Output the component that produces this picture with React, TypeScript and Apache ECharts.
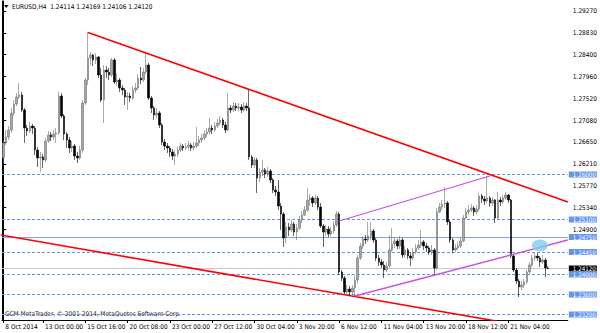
import React, { useEffect, useRef } from "react";
import * as echarts from "echarts";

const symbolName = "EURUSD,H4";
const lastQuote = [1.24114, 1.24169, 1.24106, 1.2412]; // O H L C of the last bar
const copyright = "GCM MetaTrader, \u00A9 2001-2014, MetaQuotes Software Corp.";

// H4 bars, 8 Oct 2014 12:00 onwards (open of each bar = previous close)
const firstOpen = 1.2633;
const closes = [
  1.2663, 1.2675, 1.2689, 1.2723, 1.2741, 1.2755, 1.2759, 1.2729, 1.2693, 1.2687,
  1.2697, 1.2693, 1.2649, 1.2633, 1.2635, 1.2629, 1.2667, 1.2679, 1.2675, 1.2681,
  1.2683, 1.2757, 1.2717, 1.2681, 1.2669, 1.2653, 1.2657, 1.2637, 1.2633, 1.2649,
  1.2743, 1.2789, 1.2833, 1.2839, 1.2829, 1.2835, 1.2799, 1.2749, 1.2809, 1.2805,
  1.2799, 1.2829, 1.2785, 1.2789, 1.2773, 1.2769, 1.2755, 1.2757, 1.2753, 1.2769,
  1.2773, 1.2793, 1.2789, 1.2805, 1.2819, 1.2753, 1.2733, 1.2719, 1.2723, 1.2699,
  1.2665, 1.2657, 1.2653, 1.2645, 1.2637, 1.2641, 1.2649, 1.2657, 1.2653, 1.2655,
  1.2659, 1.2653, 1.2657, 1.2663, 1.2669, 1.2673, 1.2681, 1.2685, 1.2693, 1.2689,
  1.2697, 1.2703, 1.2709, 1.2699, 1.2689, 1.2733, 1.2729, 1.2737, 1.2733, 1.2735,
  1.2729, 1.2737, 1.2733, 1.2635, 1.2619, 1.2629, 1.2593, 1.2605, 1.2609, 1.2601,
  1.2607, 1.2589, 1.2569, 1.2565, 1.2537, 1.2521, 1.2473, 1.2495, 1.2489, 1.2501,
  1.2485, 1.2493, 1.2509, 1.2519, 1.2529, 1.2549, 1.2553, 1.2543, 1.2553, 1.2535,
  1.2497, 1.2485, 1.2491, 1.2481, 1.2487, 1.2499, 1.2521, 1.2405, 1.2393, 1.2365,
  1.2371, 1.2365, 1.2373, 1.2389, 1.2433, 1.2457, 1.2471, 1.2469, 1.2477, 1.2487,
  1.2469, 1.2433, 1.2425, 1.2419, 1.2409, 1.2417, 1.2449, 1.2461, 1.2467, 1.2457,
  1.2469, 1.2439, 1.2449, 1.2437, 1.2433, 1.2445, 1.2453, 1.2459, 1.2465, 1.2457,
  1.2453, 1.2445, 1.2449, 1.2413, 1.2525, 1.2535, 1.2541, 1.2543, 1.2505, 1.2469,
  1.2449, 1.2453, 1.2457, 1.2467, 1.2513, 1.2525, 1.2529, 1.2533, 1.2525, 1.2531,
  1.2557, 1.2551, 1.2547, 1.2553, 1.2543, 1.2549, 1.2513, 1.2549, 1.2545, 1.2553,
  1.2559, 1.2549, 1.2437, 1.2409, 1.2387, 1.2375, 1.2379, 1.2385, 1.2405, 1.2419,
  1.2433, 1.2437, 1.2433, 1.2425, 1.2429, 1.2413, 1.2412,
];
const highs = [
  1.2669, 1.2689, 1.2697, 1.2733, 1.2749, 1.2763, 1.2783, 1.2765, 1.2733, 1.2699,
  1.2705, 1.2701, 1.2697, 1.2655, 1.2645, 1.2641, 1.2673, 1.2687, 1.2685, 1.2689,
  1.2693, 1.2765, 1.2763, 1.2721, 1.2685, 1.2675, 1.2667, 1.2661, 1.2645, 1.2657,
  1.2749, 1.2793, 1.2885, 1.2845, 1.2841, 1.2843, 1.2837, 1.2813, 1.2819, 1.2817,
  1.2813, 1.2833, 1.2833, 1.2803, 1.2793, 1.2779, 1.2773, 1.2765, 1.2763, 1.2777,
  1.2783, 1.2801, 1.2815, 1.2813, 1.2843, 1.2823, 1.2757, 1.2737, 1.2733, 1.2727,
  1.2703, 1.2671, 1.2663, 1.2657, 1.2651, 1.2649, 1.2655, 1.2663, 1.2661, 1.2663,
  1.2667, 1.2663, 1.2665, 1.2695, 1.2677, 1.2681, 1.2689, 1.2693, 1.2713, 1.2699,
  1.2705, 1.2711, 1.2717, 1.2713, 1.2705, 1.2763, 1.2739, 1.2745, 1.2743, 1.2743,
  1.2741, 1.2745, 1.2743, 1.2769, 1.2639, 1.2635, 1.2633, 1.2613, 1.2629, 1.2613,
  1.2615, 1.2611, 1.2593, 1.2577, 1.2589, 1.2543, 1.2525, 1.2505, 1.2503, 1.2509,
  1.2505, 1.2501, 1.2517, 1.2527, 1.2537, 1.2573, 1.2561, 1.2557, 1.2559, 1.2557,
  1.2543, 1.2501, 1.2499, 1.2497, 1.2495, 1.2507, 1.2527, 1.2525, 1.2409, 1.2397,
  1.2379, 1.2377, 1.2379, 1.2397, 1.2439, 1.2463, 1.2477, 1.2479, 1.2505, 1.2505,
  1.2491, 1.2473, 1.2439, 1.2431, 1.2427, 1.2425, 1.2479, 1.2493, 1.2475, 1.2471,
  1.2477, 1.2473, 1.2457, 1.2453, 1.2445, 1.2453, 1.2461, 1.2469, 1.2489, 1.2469,
  1.2463, 1.2457, 1.2459, 1.2453, 1.2533, 1.2543, 1.2549, 1.2575, 1.2547, 1.2509,
  1.2473, 1.2461, 1.2465, 1.2475, 1.2519, 1.2533, 1.2539, 1.2541, 1.2537, 1.2539,
  1.2563, 1.2561, 1.2557, 1.2597, 1.2557, 1.2555, 1.2551, 1.2565, 1.2555, 1.2559,
  1.2565, 1.2561, 1.2551, 1.2441, 1.2413, 1.2391, 1.2387, 1.2391, 1.2409, 1.2425,
  1.2439, 1.2443, 1.2443, 1.2437, 1.2439, 1.2433, 1.24169,
];
const lows = [
  1.2623, 1.2659, 1.2669, 1.2683, 1.2717, 1.2737, 1.2751, 1.2725, 1.2663, 1.2677,
  1.2683, 1.2681, 1.2639, 1.2615, 1.2605, 1.2613, 1.2625, 1.2663, 1.2667, 1.2669,
  1.2663, 1.2679, 1.2713, 1.2669, 1.2653, 1.2643, 1.2645, 1.2629, 1.2623, 1.2629,
  1.2643, 1.2739, 1.2779, 1.2819, 1.2817, 1.2821, 1.2793, 1.2745, 1.2703, 1.2793,
  1.2789, 1.2795, 1.2781, 1.2777, 1.2765, 1.2759, 1.2739, 1.2729, 1.2745, 1.2749,
  1.2763, 1.2769, 1.2781, 1.2785, 1.2801, 1.2749, 1.2723, 1.2709, 1.2713, 1.2693,
  1.2659, 1.2649, 1.2643, 1.2635, 1.2629, 1.2619, 1.2635, 1.2645, 1.2647, 1.2649,
  1.2649, 1.2647, 1.2649, 1.2653, 1.2657, 1.2663, 1.2669, 1.2675, 1.2681, 1.2681,
  1.2685, 1.2693, 1.2699, 1.2693, 1.2683, 1.2687, 1.2723, 1.2725, 1.2727, 1.2727,
  1.2723, 1.2725, 1.2727, 1.2629, 1.2613, 1.2613, 1.2563, 1.2585, 1.2597, 1.2593,
  1.2595, 1.2583, 1.2563, 1.2557, 1.2529, 1.2489, 1.2455, 1.2463, 1.2477, 1.2485,
  1.2477, 1.2469, 1.2489, 1.2503, 1.2517, 1.2525, 1.2537, 1.2535, 1.2539, 1.2529,
  1.2493, 1.2455, 1.2477, 1.2475, 1.2477, 1.2481, 1.2495, 1.2399, 1.2387, 1.2359,
  1.2361, 1.2359, 1.2359, 1.2357, 1.2381, 1.2429, 1.2451, 1.2461, 1.2465, 1.2469,
  1.2463, 1.2427, 1.2417, 1.2413, 1.2393, 1.2405, 1.2413, 1.2445, 1.2453, 1.2451,
  1.2451, 1.2433, 1.2433, 1.2431, 1.2417, 1.2429, 1.2441, 1.2449, 1.2453, 1.2449,
  1.2445, 1.2439, 1.2439, 1.2399, 1.2409, 1.2523, 1.2529, 1.2533, 1.2499, 1.2463,
  1.2443, 1.2445, 1.2449, 1.2453, 1.2465, 1.2511, 1.2519, 1.2525, 1.2517, 1.2521,
  1.2527, 1.2543, 1.2539, 1.2543, 1.2535, 1.2537, 1.2503, 1.2511, 1.2537, 1.2541,
  1.2549, 1.2543, 1.2433, 1.2405, 1.2381, 1.2355, 1.2369, 1.2373, 1.2381, 1.2401,
  1.2415, 1.2427, 1.2427, 1.2415, 1.2421, 1.2395, 1.24106,
];
const shiftBars = 7; // empty space right of the last bar

const xTickIndex = [0, 15, 31, 47, 63, 79, 95, 111, 127, 143, 159, 175, 191];
const xTickLabels = [
  "8 Oct 2014", "13 Oct 00:00", "15 Oct 16:00", "20 Oct 08:00", "23 Oct 00:00",
  "27 Oct 12:00", "30 Oct 04:00", "3 Nov 20:00", "6 Nov 12:00", "11 Nov 04:00",
  "13 Nov 20:00", "18 Nov 12:00", "21 Nov 04:00",
];
const yTickValues = [
  1.2927, 1.2883, 1.284, 1.2796, 1.2752, 1.2708, 1.2665, 1.2621, 1.2577, 1.2534, 1.249,
];
const yMin = 1.2309;
const yMax = 1.2947;

const dottedLevels = [1.26, 1.251, 1.2445, 1.24, 1.236, 1.232];
const solidLevels = [1.2475];
const bidLevel = 1.2412;

// trend lines: [bar index, price]
const redUpper = [[32, 1.2884], [213.5, 1.2545]];
const redLower = [[-1, 1.2479], [213.5, 1.2282]];
const purpleUpper = [[127, 1.2507], [184, 1.2597]];
const purpleLower = [[133, 1.2357], [213.5, 1.2469]];
const touchMark = [[202.9, 1.2458]];

const FONT = "'Liberation Sans Narrow', 'DejaVu Sans Condensed', 'Liberation Sans', sans-serif";
const FS = 6.5;
const LEVEL_BLUE = "#6495ED";

export default function App() {
  const ref = useRef<HTMLDivElement>(null);
  useEffect(() => {
    if (!ref.current) return;
    const chart = echarts.init(ref.current, undefined, { renderer: "svg" });
    const total = closes.length + shiftBars;
    const cats = Array.from({ length: total }, (_, i) => String(i));
    const candles = closes.map((c, i) => [i === 0 ? firstOpen : closes[i - 1], c, lows[i], highs[i]]);
    const tickSet = new Set(xTickIndex);
    const lblMap: Record<number, string> = {};
    xTickIndex.forEach((ix, k) => (lblMap[ix] = xTickLabels[k]));

    const levelLabel = (bg: string) => ({
      show: true,
      position: "end" as const,
      distance: 1,
      formatter: (p: any) => Number(p.value).toFixed(5),
      color: "#fff",
      backgroundColor: bg,
      fontFamily: FONT,
      fontSize: 6.2,
      lineHeight: 6,
      padding: [0, 1, 0, 4],
    });

    const markData: any[] = [
      { yAxis: bidLevel, lineStyle: { color: "#c8c8c8", type: "solid", width: 1 }, label: levelLabel("#000") },
      ...solidLevels.map((v) => ({ yAxis: v, lineStyle: { color: "#7aa2f0", type: "solid", width: 1 }, label: levelLabel(LEVEL_BLUE) })),
      ...dottedLevels.map((v) => ({ yAxis: v, lineStyle: { color: LEVEL_BLUE, type: [3, 2], width: 1 }, label: levelLabel(LEVEL_BLUE) })),
    ];

    const trend = (data: number[][], color: string, width: number) => ({
      type: "line",
      xAxisIndex: 1,
      yAxisIndex: 0,
      data,
      symbol: "none",
      silent: true,
      clip: true,
      z: 4,
      lineStyle: { color, width },
    });

    chart.setOption({
      animation: false,
      grid: { left: 2, right: 28, top: 1, bottom: 13 },
      xAxis: [
        {
          type: "category",
          data: cats,
          boundaryGap: true,
          axisLine: { show: true, lineStyle: { color: "#000", width: 1 } },
          axisTick: {
            show: true,
            alignWithLabel: true,
            length: 3,
            interval: (i: number) => tickSet.has(i),
            lineStyle: { color: "#000" },
          },
          axisLabel: {
            interval: (i: number) => tickSet.has(i),
            formatter: (_v: string, i: number) => lblMap[i] || "",
            align: "left",
            padding: [0, 0, 0, 2],
            margin: 3,
            color: "#000",
            fontFamily: FONT,
            fontSize: FS,
          },
          splitLine: { show: false },
        },
        { type: "value", min: -0.5, max: total - 0.5, show: false },
      ],
      yAxis: [
        {
          type: "value",
          position: "right",
          min: yMin,
          max: yMax,
          scale: true,
          axisLine: { show: true, lineStyle: { color: "#000", width: 1 } },
          axisTick: { show: true, length: 3, customValues: yTickValues, lineStyle: { color: "#000" } },
          axisLabel: {
            customValues: yTickValues,
            formatter: (v: number) => v.toFixed(5),
            margin: 5,
            color: "#000",
            fontFamily: FONT,
            fontSize: FS,
          },
          splitLine: { show: false },
        },
        {
          type: "value",
          position: "left",
          min: yMin,
          max: yMax,
          axisLine: { show: true, lineStyle: { color: "#000", width: 1 } },
          axisTick: { show: false },
          axisLabel: { show: false },
          splitLine: { show: false },
        },
      ],
      series: [
        {
          type: "candlestick",
          xAxisIndex: 0,
          yAxisIndex: 0,
          data: candles,
          barWidth: 2,
          z: 3,
          itemStyle: {
            color: "#a6a6a6",
            color0: "#000000",
            borderColor: "#707070",
            borderColor0: "#000000",
            borderWidth: 0.6,
          },
          markLine: {
            silent: true,
            symbol: "none",
            precision: 5,
            z: 1,
            animation: false,
            data: markData,
          },
        },
        trend(redUpper, "#ff0000", 1.6),
        trend(redLower, "#ff0000", 1.6),
        trend(purpleUpper, "#c455dd", 1.3),
        trend(purpleLower, "#c455dd", 1.3),
        {
          type: "scatter",
          xAxisIndex: 1,
          yAxisIndex: 0,
          data: touchMark,
          symbol: "circle",
          symbolSize: [16, 12],
          z: 5,
          silent: true,
          itemStyle: { color: "#84c9ec" },
        },
      ],
      graphic: [
        { type: "polygon", shape: { points: [[4, 5], [8.5, 5], [6.25, 8]] }, style: { fill: "#000" } },
        {
          type: "text",
          x: 12,
          y: 6.5,
          style: {
            text: `${symbolName}  ${lastQuote.map((v) => v.toFixed(5)).join(" ")}`,
            fontFamily: FONT,
            fontSize: FS,
            fill: "#000",
            verticalAlign: "middle",
          },
        },
        {
          type: "text",
          x: 5,
          y: 314,
          style: {
            text: copyright,
            fontFamily: FONT,
            fontSize: FS,
            fill: "#222",
            verticalAlign: "middle",
          },
        },
      ],
    });
    return () => chart.dispose();
  }, []);
  return (
    <div
      ref={ref}
      style={{ position: "fixed", left: 0, top: 0, width: 600, height: 333, background: "#fff" }}
    />
  );
}
